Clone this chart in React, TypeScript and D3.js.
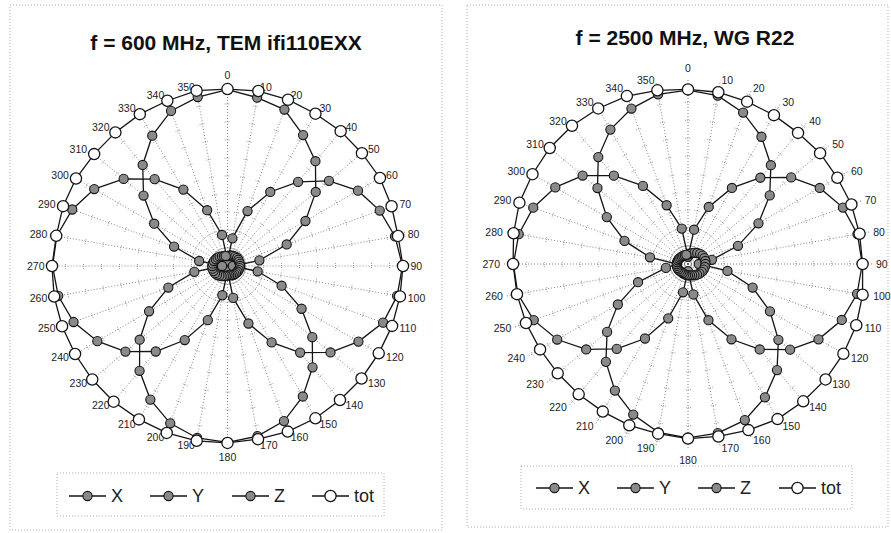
import React from "react";
import * as d3 from "d3";

// Categories: measurement angles (degrees)
const ANGLES = [0, 10, 20, 30, 40, 50, 60, 70, 80, 90, 100, 110, 120, 130, 140, 150, 160, 170,
  180, 190, 200, 210, 220, 230, 240, 250, 260, 270, 280, 290, 300, 310, 320, 330, 340, 350];

const SERIES_NAMES = ["X", "Y", "Z", "tot"];

// Panel 1: f = 600 MHz, TEM ifi110EXX (relative field strength)
const left_X = [0.03, 0.156, 0.325, 0.475, 0.61, 0.736, 0.837, 0.9, 0.945, 0.972, 0.957, 0.92, 0.84, 0.747, 0.628, 0.49, 0.34, 0.18,
  0.03, 0.165, 0.32, 0.475, 0.62, 0.74, 0.835, 0.91, 0.955, 0.972, 0.963, 0.918, 0.855, 0.753, 0.63, 0.49, 0.33, 0.175];
const left_Y = [0.98, 0.95, 0.925, 0.84, 0.76, 0.64, 0.5, 0.35, 0.18, 0.03, 0.17, 0.32, 0.475, 0.615, 0.735, 0.837, 0.917, 0.96,
  0.98, 0.97, 0.93, 0.857, 0.76, 0.637, 0.503, 0.35, 0.187, 0.03, 0.16, 0.316, 0.47, 0.609, 0.733, 0.836, 0.917, 0.953];
const left_Z = [0.055, 0.058, 0.062, 0.065, 0.068, 0.07, 0.07, 0.068, 0.07, 0.07, 0.068, 0.066, 0.064, 0.062, 0.06, 0.058, 0.055, 0.053,
  0.052, 0.055, 0.06, 0.065, 0.07, 0.076, 0.08, 0.083, 0.085, 0.085, 0.083, 0.08, 0.075, 0.072, 0.068, 0.062, 0.058, 0.056];
const left_tot = [0.983, 0.987, 0.983, 0.977, 0.978, 0.975, 0.978, 0.97, 0.962, 0.975, 0.973, 0.973, 0.97, 0.972, 0.972, 0.977, 0.979, 0.977,
  0.983, 0.986, 0.987, 0.984, 0.984, 0.981, 0.978, 0.978, 0.978, 0.975, 0.966, 0.972, 0.972, 0.967, 0.969, 0.974, 0.977, 0.989];

// Panel 2: f = 2500 MHz, WG R22
const right_X = [0.04, 0.194, 0.338, 0.489, 0.627, 0.75, 0.847, 0.918, 0.958, 0.97, 0.956, 0.911, 0.839, 0.742, 0.621, 0.484, 0.333, 0.172,
  0.04, 0.16, 0.322, 0.479, 0.617, 0.74, 0.841, 0.914, 0.962, 0.972, 0.957, 0.917, 0.853, 0.766, 0.642, 0.502, 0.348, 0.2];
const right_Y = [0.968, 0.952, 0.897, 0.818, 0.718, 0.594, 0.453, 0.296, 0.135, 0.06, 0.223, 0.383, 0.527, 0.657, 0.771, 0.857, 0.925, 0.956,
  0.968, 0.952, 0.892, 0.814, 0.711, 0.588, 0.451, 0.296, 0.125, 0.06, 0.215, 0.376, 0.522, 0.658, 0.777, 0.864, 0.921, 0.959];
const right_Z = [0.052, 0.058, 0.065, 0.072, 0.08, 0.088, 0.094, 0.097, 0.098, 0.097, 0.095, 0.092, 0.088, 0.083, 0.078, 0.072, 0.067, 0.064,
  0.063, 0.062, 0.06, 0.058, 0.058, 0.06, 0.062, 0.063, 0.063, 0.063, 0.062, 0.06, 0.058, 0.056, 0.054, 0.053, 0.052, 0.052];
const right_tot = [0.972, 0.971, 0.962, 0.957, 0.953, 0.96, 0.96, 0.968, 0.97, 0.972, 0.987, 0.997, 0.999, 1.0, 0.998, 0.997, 0.984, 0.975,
  0.972, 0.959, 0.956, 0.949, 0.947, 0.947, 0.951, 0.96, 0.967, 0.974, 0.986, 0.999, 1.0, 1.005, 1.005, 1.0, 0.995, 0.982];

const TITLES = ["f = 600 MHz, TEM ifi110EXX", "f = 2500 MHz, WG R22"];
const AXIS_MAX = [1.0, 1.03];
const TICK_STEP = 0.1;

const FONT = "'Liberation Sans', Arial, sans-serif";
const GRAY_FILL = "#8a8a8a";
const INK = "#151515";

type PanelProps = {
  border: { x: number; y: number; w: number; h: number };
  cx: number; cy: number; rPx: number; max: number;
  title: string; titleX: number; titleY: number;
  data: number[][];
  legend: { x: number; y: number; w: number; h: number; cy: number; starts: number[] };
};

function Marker({ x, y, tot }: { x: number; y: number; tot: boolean }) {
  return tot ? (
    <circle cx={x} cy={y} r={5.6} fill="#fff" stroke={INK} strokeWidth={1.3} />
  ) : (
    <circle cx={x} cy={y} r={4.6} fill={GRAY_FILL} stroke={INK} strokeWidth={1.1} />
  );
}

function Panel(p: PanelProps) {
  const r = d3.scaleLinear().domain([0, p.max]).range([0, p.rPx]);
  const rad = (a: number) => (a * Math.PI) / 180;
  const line = d3
    .lineRadial<number>()
    .angle((_, i) => rad(ANGLES[i]))
    .radius((v) => r(v))
    .curve(d3.curveLinearClosed);
  const ticks = d3.range(TICK_STEP, p.max + 1e-9, TICK_STEP);
  const rL = p.rPx + 2;

  return (
    <g>
      <rect x={p.border.x} y={p.border.y} width={p.border.w} height={p.border.h}
        fill="none" stroke="#999" strokeWidth={0.8} strokeDasharray="1,2" />
      <text x={p.titleX} y={p.titleY} textAnchor="middle" fontFamily={FONT} fontWeight="bold"
        fontSize={21} fill="#111">{p.title}</text>

      <g transform={`translate(${p.cx},${p.cy})`}>
        {ANGLES.map((a) => {
          const s = Math.sin(rad(a)), c = Math.cos(rad(a));
          return (
            <g key={"sp" + a}>
              <line x1={0} y1={0} x2={s * p.rPx} y2={-c * p.rPx} stroke="#666" strokeWidth={0.8}
                strokeDasharray="1,2" />
              {ticks.map((t) => {
                const d = r(t);
                const px = s * d, py = -c * d;
                return (
                  <line key={t} x1={px - c * 3} y1={py - s * 3} x2={px + c * 3} y2={py + s * 3}
                    stroke="#777" strokeWidth={0.7} strokeDasharray="1,1" />
                );
              })}
            </g>
          );
        })}
        {ANGLES.map((a) => {
          const s = Math.sin(rad(a)), c = Math.cos(rad(a));
          let x = s * rL + (s > 0.01 ? 1 : s < -0.01 ? -1 : 0);
          let y = -c * rL;
          let anchor = "middle";
          if (s > 0.01) anchor = "start";
          else if (s < -0.01) anchor = "end";
          else y = -c * (rL + 9);
          return (
            <text key={"lb" + a} x={x} y={y} textAnchor={anchor} dominantBaseline="central"
              fontFamily={FONT} fontSize={10.5} fill="#222">{a}</text>
          );
        })}
        {p.data.map((vals, si) => (
          <g key={"s" + si}>
            <path d={line(vals) || ""} fill="none" stroke={INK} strokeWidth={1.3} />
            {vals.map((v, i) => {
              const a = rad(ANGLES[i]);
              return <Marker key={i} x={Math.sin(a) * r(v)} y={-Math.cos(a) * r(v)} tot={si === 3} />;
            })}
          </g>
        ))}
      </g>

      <rect x={p.legend.x} y={p.legend.y} width={p.legend.w} height={p.legend.h}
        fill="none" stroke="#999" strokeWidth={0.8} strokeDasharray="1,2" />
      {SERIES_NAMES.map((n, i) => {
        const x0 = p.legend.starts[i];
        return (
          <g key={"lg" + n}>
            <line x1={x0} y1={p.legend.cy} x2={x0 + 37} y2={p.legend.cy} stroke={INK} strokeWidth={1.3} />
            <Marker x={x0 + 18.5} y={p.legend.cy} tot={i === 3} />
            <text x={x0 + 42} y={p.legend.cy} dominantBaseline="central" fontFamily={FONT}
              fontSize={18} fill="#222">{n}</text>
          </g>
        );
      })}
    </g>
  );
}

export default function App() {
  return (
    <svg width={891} height={533} style={{ position: "absolute", left: 0, top: 0, background: "#fff" }}>
      <rect x={0} y={0} width={891} height={533} fill="#fff" />
      <Panel
        border={{ x: 10, y: 5, w: 432, h: 525 }}
        cx={227.5} cy={266} rPx={180} max={AXIS_MAX[0]}
        title={TITLES[0]} titleX={226} titleY={50}
        data={[left_X, left_Y, left_Z, left_tot]}
        legend={{ x: 57, y: 473, w: 327, h: 43, cy: 496, starts: [69, 150, 232, 312] }}
      />
      <Panel
        border={{ x: 467, y: 5, w: 421, h: 522 }}
        cx={688} cy={264} rPx={185} max={AXIS_MAX[1]}
        title={TITLES[1]} titleX={685} titleY={45}
        data={[right_X, right_Y, right_Z, right_tot]}
        legend={{ x: 521, y: 466, w: 331, h: 43, cy: 488, starts: [536, 617, 698, 779] }}
      />
    </svg>
  );
}
